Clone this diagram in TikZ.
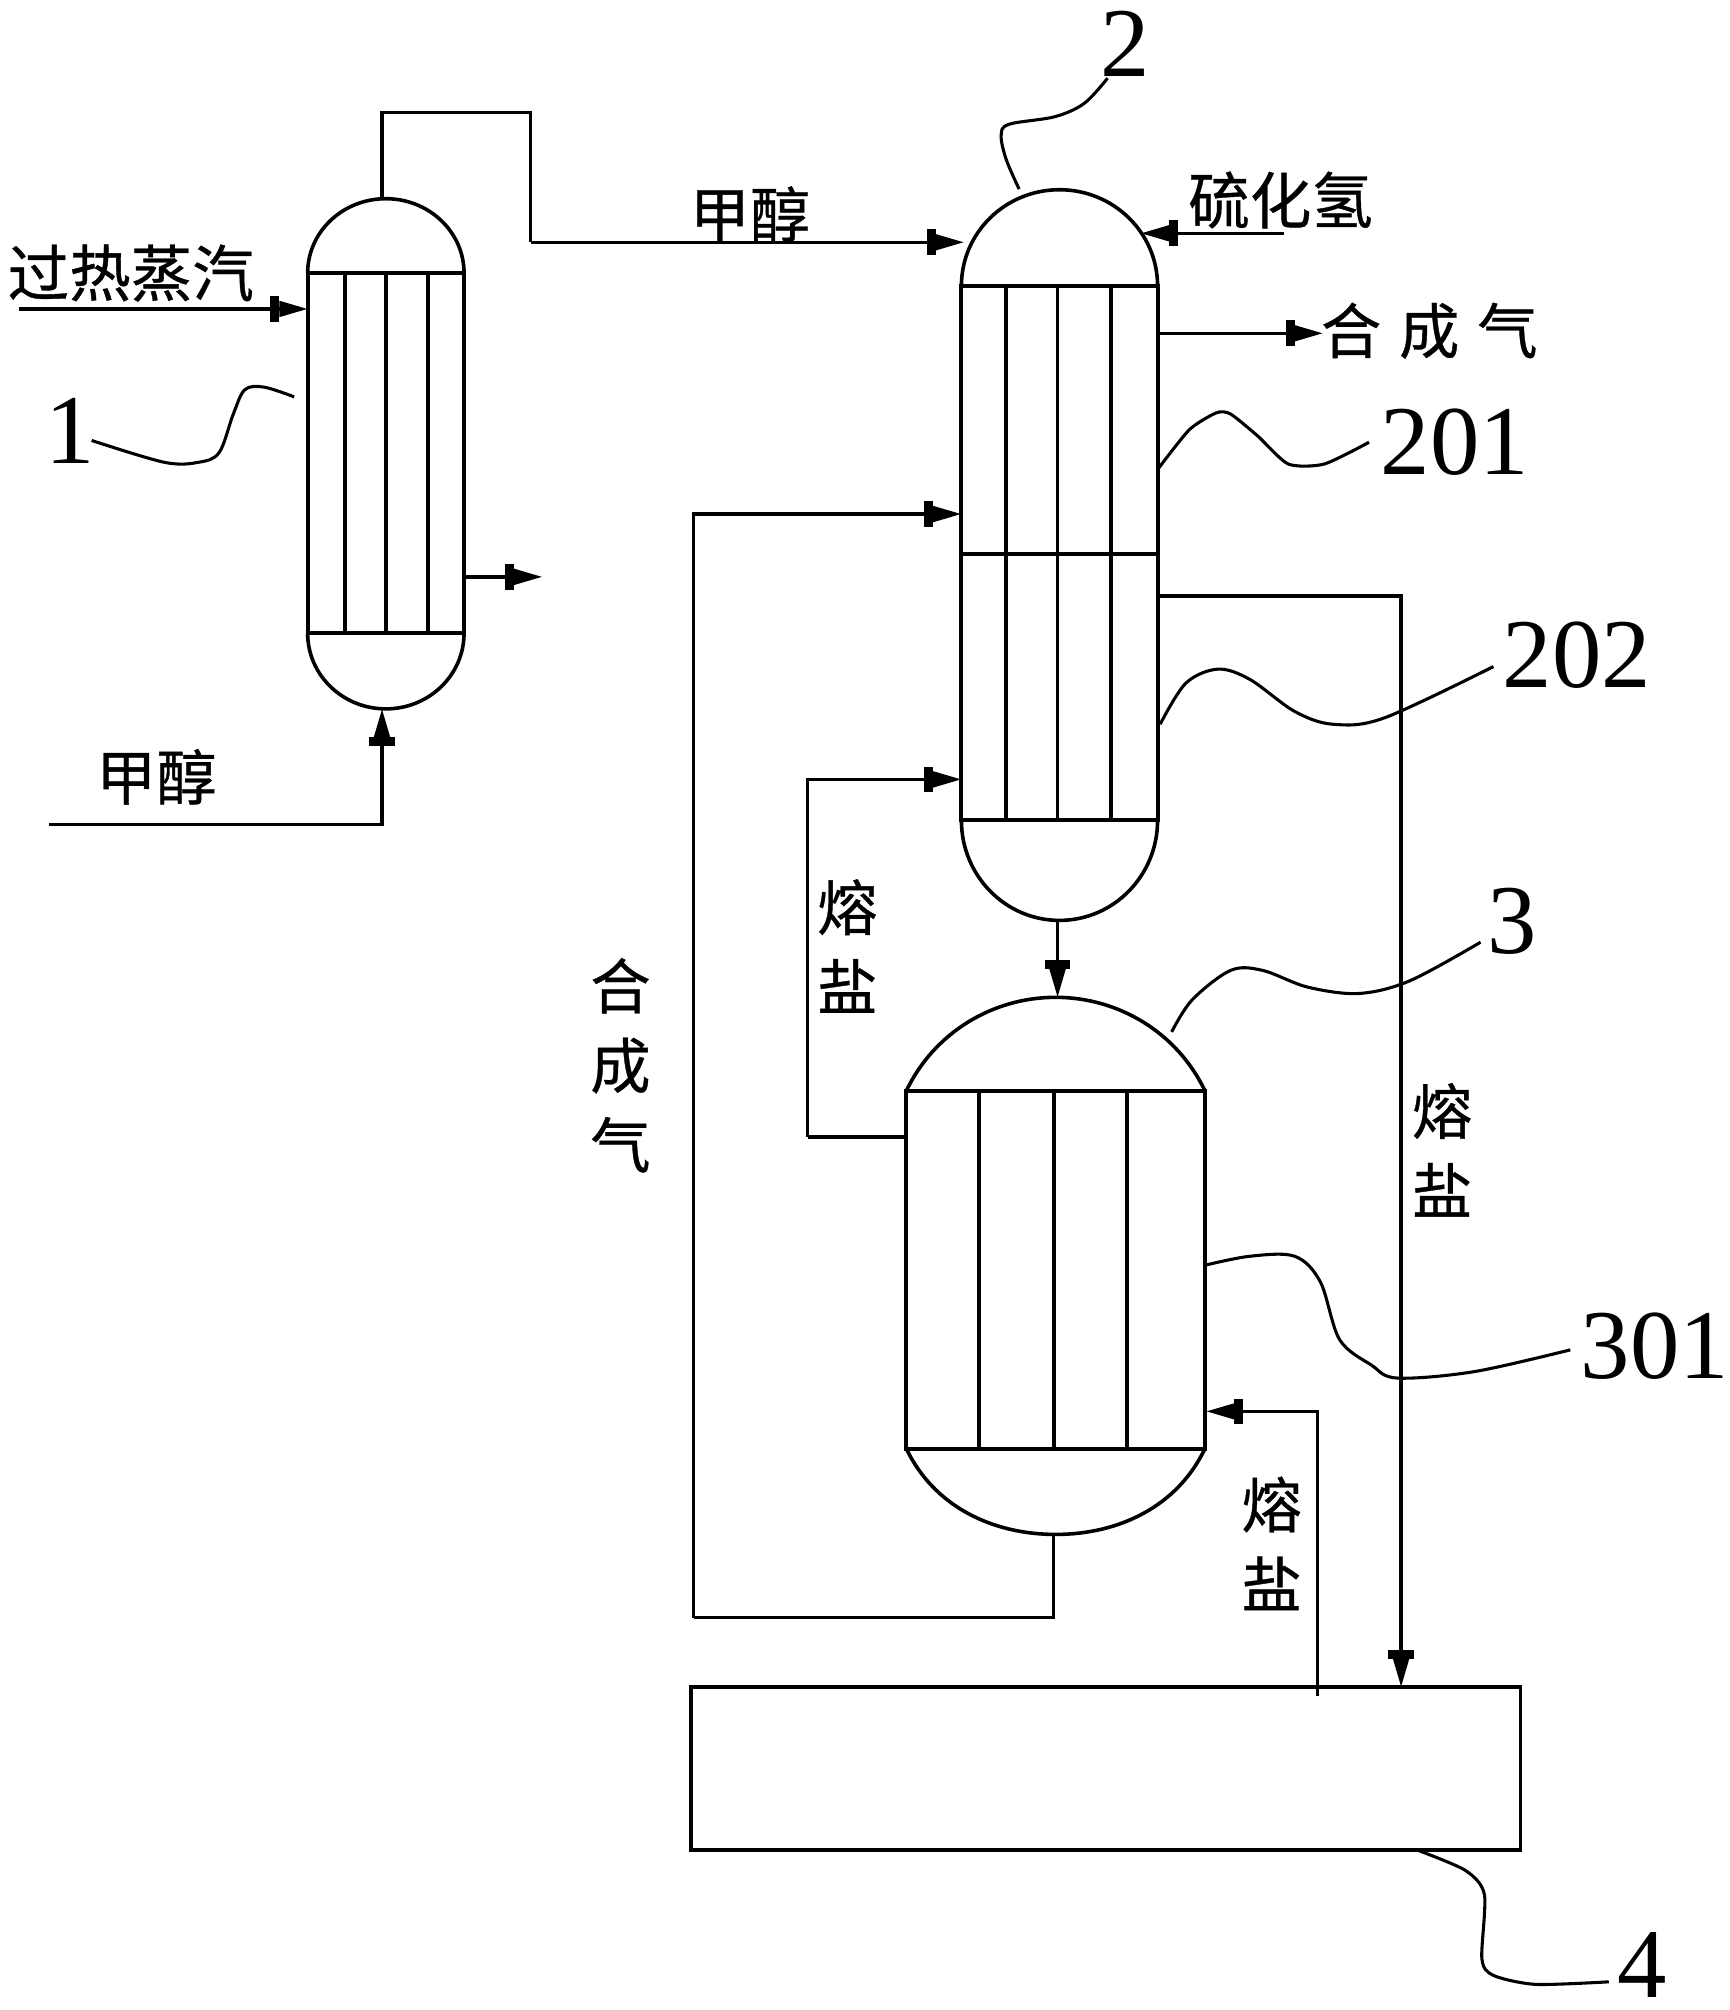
\documentclass[tikz,border=0pt]{standalone}
\usepackage{fontspec}
\setmainfont{Liberation Serif}
\newfontfamily\cjk[FakeBold=0.6]{Noto Sans CJK SC}
\usetikzlibrary{arrows.meta,calc}
\tikzset{
  x=0.5pt,y=-0.5pt,
  vesselbox/.style={draw,rectangle,inner sep=0pt,outer sep=0pt,line width=1.6pt},
  shell/.style={line width=1.4pt},
  tube/.style={line width=1.5pt},
  pipe/.style={line width=1.3pt},
  flow/.style={line width=1.3pt,-{Rectangle[length=3.5pt,width=10pt,sep=0pt]Triangle[length=11pt,width=6pt]}},
  leader/.style={line width=1.2pt,line join=round},
  cn/.style={inner sep=0pt,outer sep=0pt,align=center,font=\cjk\fontsize{23.5}{31}\selectfont},
  cnw/.style={inner sep=0pt,outer sep=0pt,align=center,font=\cjk\fontsize{24}{31}\selectfont},
  num/.style={inner sep=0pt,outer sep=0pt,font=\fontsize{38.5}{38.5}\selectfont},
}
\begin{document}
\begin{tikzpicture}
\useasboundingbox (0,0) rectangle (1349.5,1568);
% vessel 1
\node[vesselbox,minimum width=61pt,minimum height=140.5pt] (v1) at (301,353.5) {};
\draw[shell] (v1.north west) arc[start angle=180,end angle=360,x radius=61,y radius=58];
\draw[shell] (v1.south west) arc[start angle=180,end angle=0,x radius=61,y radius=59];
\foreach \x in {269,301,334} \draw[tube] (\x,213) -- (\x,494);
% vessel 2
\node[vesselbox,minimum width=76.5pt,minimum height=208.5pt] (v2) at (826.5,431.5) {};
\draw[shell] (v2.north west) arc[start angle=180,end angle=360,x radius=76.5,y radius=75];
\draw[shell] (v2.south west) arc[start angle=180,end angle=0,x radius=76.5,y radius=78];
\draw[vesselbox] (750,432) -- (903,432);
\foreach \x in {785,825,867} \draw[tube] (\x,223) -- (\x,640);
% vessel 3
\node[vesselbox,minimum width=116.5pt,minimum height=139.5pt] (v3) at (823.5,990.5) {};
\draw[shell] (v3.north west) .. controls (728.4,806) and (773.9,778) .. (823.5,778)
   .. controls (873.1,778) and (918.6,806) .. (v3.north east);
\draw[shell] (v3.south west) .. controls (728.4,1175) and (773.9,1197) .. (823.5,1197)
   .. controls (873.1,1197) and (918.6,1175) .. (v3.south east);
\foreach \x in {764,822,879} \draw[tube] (\x,851) -- (\x,1130);
% tank
\node[vesselbox,line width=1.4pt,minimum width=323.5pt,minimum height=63.5pt] (tank) at (862.5,1379.5) {};
% ports
\coordinate (steamin) at (15,241);
\coordinate (v1steam) at (240,241);
\coordinate (meohin) at (38,643);
\coordinate (v1bot) at (298,553);
\coordinate (v1top) at (298,155);
\coordinate (v1out) at (362,450);
\coordinate (v1outend) at (423,450);
\coordinate (up1) at (298,88);
\coordinate (up2) at (414,88);
\coordinate (up3) at (414,189);
\coordinate (v2meoh) at (752,189);
\coordinate (hsin) at (1002,182);
\coordinate (v2hs) at (890,182);
\coordinate (v2syn) at (903,260);
\coordinate (synend) at (1032,260);
\coordinate (v2salt) at (903,465);
\coordinate (tanksalt) at (1093,1316);
\coordinate (v2bot) at (825,718);
\coordinate (v3top) at (825,778);
\coordinate (v3bot) at (822,1197);
\coordinate (v2syn2) at (750,401);
\coordinate (rec1) at (822,1262);
\coordinate (rec2) at (541,1262);
\coordinate (v3salt) at (707,887);
\coordinate (v2salt2) at (750,608);
\coordinate (salt1) at (630,887);
\coordinate (tankout) at (1028,1323);
\coordinate (v3saltin) at (941,1101);
% connectors
\draw[flow] (steamin) -- (v1steam);
\draw[flow] (meohin) -| (v1bot);
\draw[pipe,line join=miter] (v1top) -- (up1) -- (up2) -- (up3);
\draw[flow] (up3) -- (v2meoh);
\draw[flow] (v1out) -- (v1outend);
\draw[flow] (hsin) -- (v2hs);
\draw[flow] (v2syn) -- (synend);
\draw[flow] (v2salt) -| (tanksalt);
\draw[flow] (v2bot) -- (v3top);
\draw[pipe] (v3bot) -- (rec1) -- (rec2);
\draw[flow] (rec2) |- (v2syn2);
\draw[pipe] (v3salt) -- (salt1);
\draw[flow] (salt1) |- (v2salt2);
\draw[flow] (tankout) |- (v3saltin);
% labels
\node[cnw] (tsteam) at (102,213) {过热蒸汽};
\node[cn] (tm1) at (122,606) {甲醇};
\node[cn] (tm2) at (585,167) {甲醇};
\node[cnw] (ths) at (999,156) {硫化氢};
\node[cn] (tsyn) at (1115,258) {合\hspace{7pt}成\hspace{7pt}气};
\node[cn] (tsyn2) at (484,831) {合\\成\\气};
\node[cn] (ts1) at (661,738) {熔\\盐};
\node[cn] (ts2) at (1125,897) {熔\\盐};
\node[cn] (ts3) at (992,1204) {熔\\盐};
% numbers
\node[num] (n1) at (55,336) {1};
\node[num] (n2) at (878,34) {2};
\node[num] (n201) at (1135,345) {201};
\node[num] (n202) at (1230,511) {202};
\node[num] (n3) at (1180,719) {3};
\node[num] (n301) at (1291,1050) {301};
\node[num] (n4) at (1281,1533) {4};
% leaders
\coordinate (a1) at (71.5,343.6); \coordinate (b1) at (229.5,309.6);
\draw[leader] plot[smooth,tension=0.55] coordinates {(a1) (128,360.6) (155,360.6) (171,353) (182,323) (191,304) (206,302) (b1)};
\coordinate (a2) at (864,61); \coordinate (b2) at (795,147.5);
\draw[leader] plot[smooth,tension=0.55] coordinates {(a2) (846,80.5) (823,91) (787,97) (781,106) (785,124.6) (b2)};
\coordinate (a201) at (1068,345); \coordinate (b201) at (904,365);
\draw[leader] plot[smooth,tension=0.4] coordinates {(a201) (1033,362) (1005,362) (981,340) (960,323) (949,322) (928,335) (b201)};
\coordinate (a202) at (1165,520); \coordinate (b202) at (905,565);
\draw[leader] plot[smooth,tension=0.55] coordinates {(a202) (1080,560) (1040,565) (1010,555) (975,530) (950,522) (925,533) (b202)};
\coordinate (a3) at (1155,735); \coordinate (b3) at (914,805);
\draw[leader] plot[smooth,tension=0.55] coordinates {(a3) (1100,765) (1060,775) (1020,770) (985,757) (960,757) (930,780) (b3)};
\coordinate (a301) at (1225,1053); \coordinate (b301) at (940,987);
\draw[leader] plot[smooth,tension=0.55] coordinates {(a301) (1150,1070) (1090,1075) (1070,1065) (1045,1045) (1030,1000) (1010,980) (975,980) (b301)};
\coordinate (a4) at (1255,1546); \coordinate (b4) at (1105,1443);
\draw[leader] plot[smooth,tension=0.45] coordinates {(a4) (1198,1548) (1165,1541) (1156,1528) (1158,1478) (1143,1459) (b4)};
\end{tikzpicture}
\end{document}
